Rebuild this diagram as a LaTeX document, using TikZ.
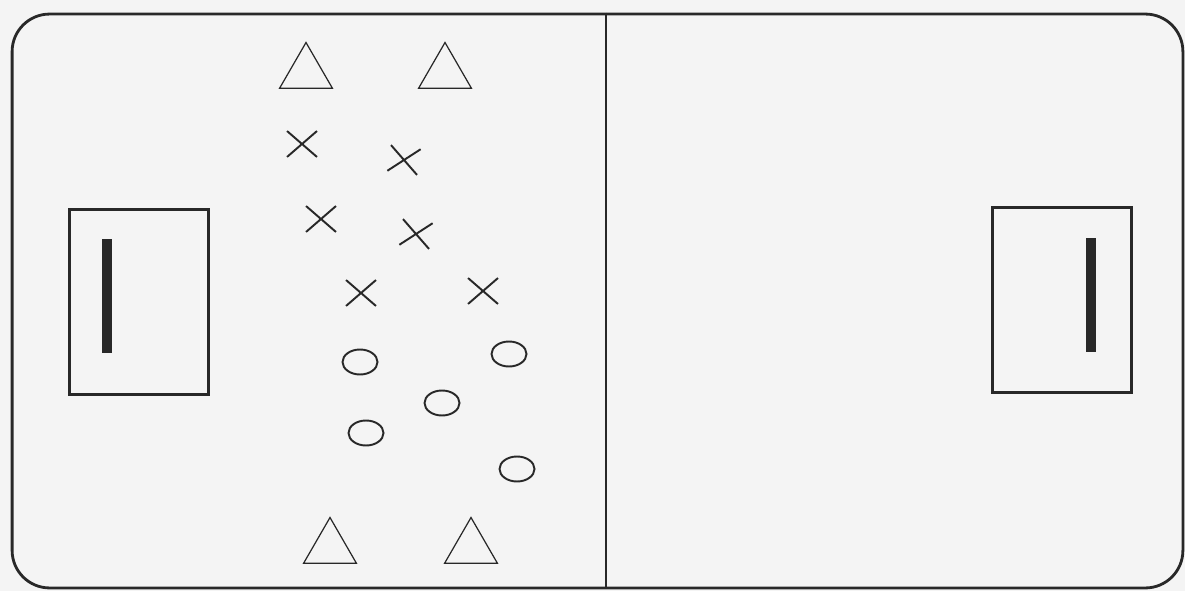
\documentclass[tikz,border=0pt]{standalone}
\usepackage{xcolor}
\usepackage{tikz}
\usetikzlibrary{shapes.geometric, shapes.misc}

\definecolor{paper}{RGB}{244,244,244}
\definecolor{ink}{RGB}{40,40,40}

\begin{document}
\begin{tikzpicture}[
  x=0.02cm, y=-0.02cm,
  rink/.style={draw=ink, line width=1.6pt, rounded corners=0.75cm, minimum width=23.42cm, minimum height=11.48cm, inner sep=0pt},
  goalbox/.style={draw=ink, line width=1.3pt, minimum width=2.78cm, minimum height=3.7cm, inner sep=0pt},
  bar/.style={fill=ink, minimum width=0.2cm, minimum height=2.28cm, inner sep=0pt},
  cone/.style={regular polygon, regular polygon sides=3, draw=ink, line width=0.7pt, minimum size=1.22cm, inner sep=0pt},
  attacker/.style={cross out, draw=ink, line width=1.1pt, minimum width=0.56cm, minimum height=0.48cm, inner sep=0pt},
  defender/.style={ellipse, draw=ink, line width=1.1pt, minimum width=0.7cm, minimum height=0.5cm, inner sep=0pt}
]
  \fill[paper] (0,0) rectangle (1185,591);
  \useasboundingbox (0,0) rectangle (1185,591);

  % rink and centre line
  \node[rink] (rink) at (597.5,301) {};
  \draw[ink, line width=1.1pt] (606,0 |- rink.north) -- (606,0 |- rink.south);

  % goals
  \node[goalbox] (goalL) at (139,302) {};
  \node[bar] (barL) at (107,296) {};
  \node[goalbox] (goalR) at (1062,300) {};
  \node[bar] (barR) at (1091,295) {};

  % cones
  \node[cone] (c1) at (306,73) {};
  \node[cone] (c2) at (445,73) {};
  \node[cone] (c3) at (330,548) {};
  \node[cone] (c4) at (471,548) {};

  % attackers
  \node[attacker] (x1) at (302,144) {};
  \node[attacker, rotate=-8] (x2) at (404,160) {};
  \node[attacker] (x3) at (321,219) {};
  \node[attacker, rotate=-8] (x4) at (416,234) {};
  \node[attacker] (x5) at (361,293) {};
  \node[attacker] (x6) at (483,291) {};

  % defenders
  \node[defender] (o1) at (360,362) {};
  \node[defender] (o2) at (509,354) {};
  \node[defender] (o3) at (442,403) {};
  \node[defender] (o4) at (366,433) {};
  \node[defender] (o5) at (517,469) {};
\end{tikzpicture}
\end{document}
